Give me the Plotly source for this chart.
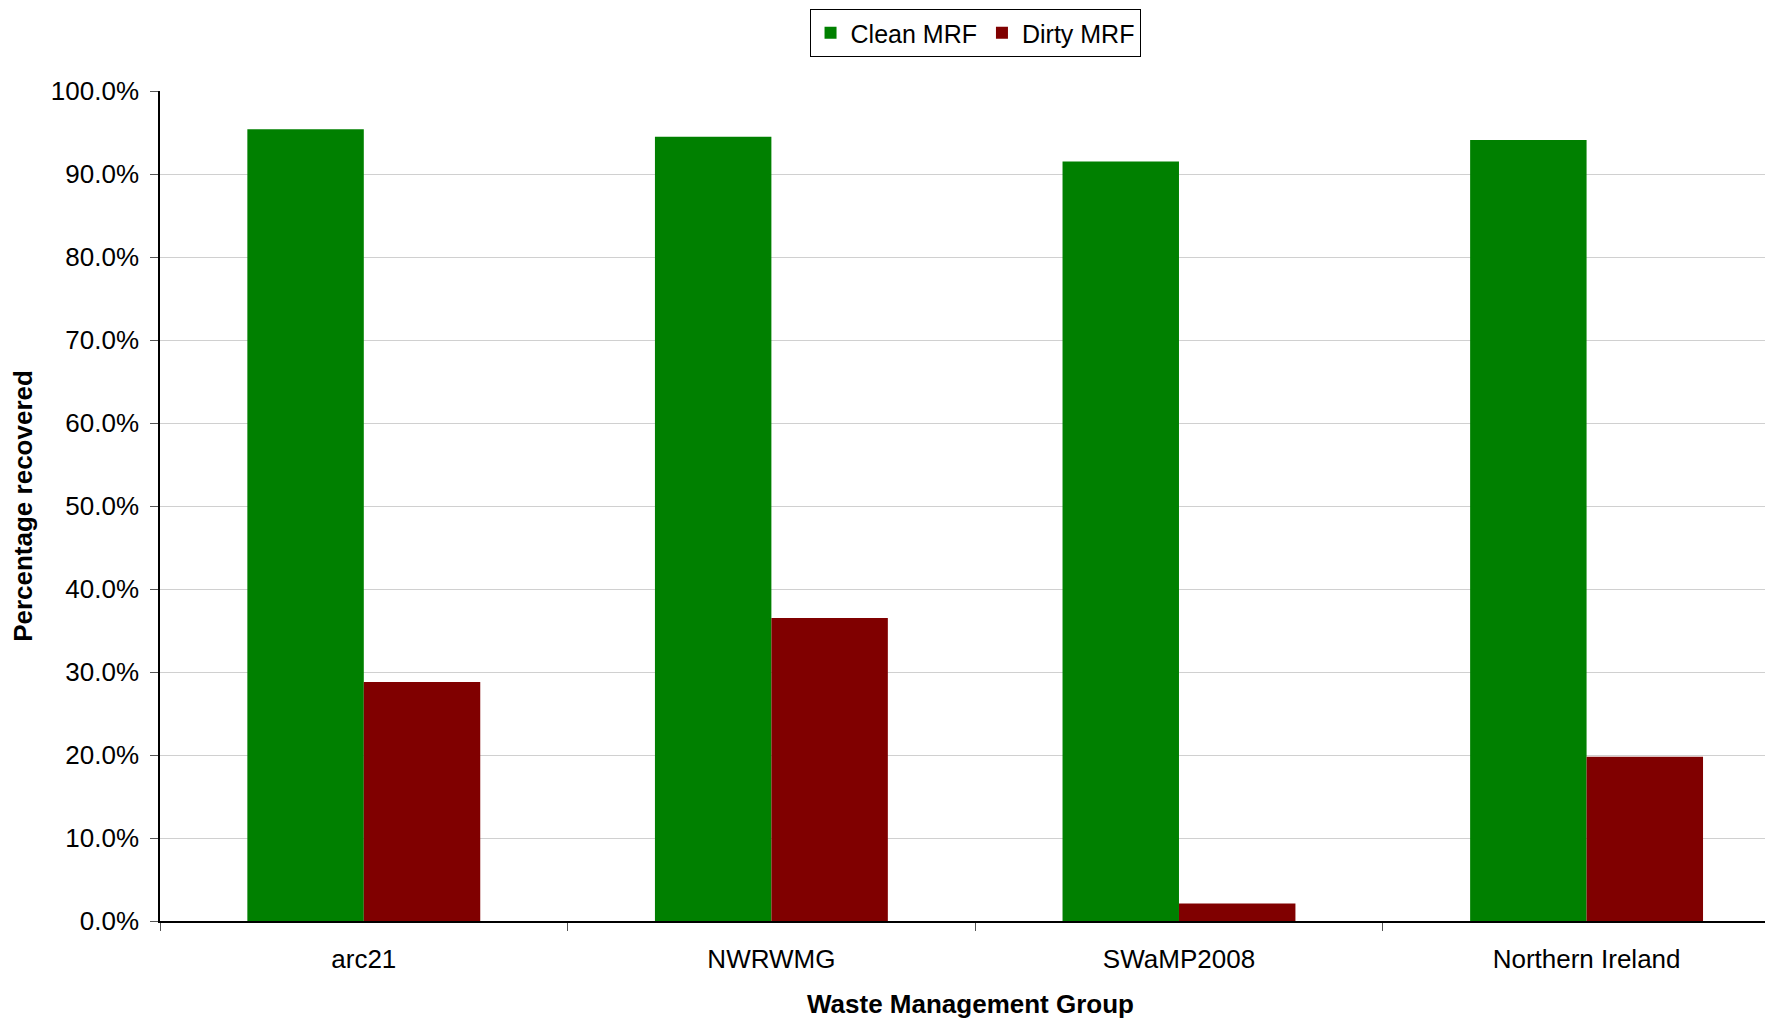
import plotly.graph_objects as go

categories = ["arc21", "NWRWMG", "SWaMP2008", "Northern Ireland"]
clean_mrf = [95.4, 94.5, 91.5, 94.1]
dirty_mrf = [28.8, 36.5, 2.1, 19.8]
y_ticks = [0, 10, 20, 30, 40, 50, 60, 70, 80, 90, 100]

FONT = "Liberation Sans, Arial, sans-serif"

fig = go.Figure()
fig.add_trace(go.Bar(name="Clean MRF", x=categories, y=clean_mrf,
                     marker=dict(color="#008000", line=dict(width=0))))
fig.add_trace(go.Bar(name="Dirty MRF", x=categories, y=dirty_mrf,
                     marker=dict(color="#800000", line=dict(width=0))))

fig.update_layout(
    width=1773, height=1019,
    barmode="group", bargap=0.4286, bargroupgap=0,
    plot_bgcolor="white", paper_bgcolor="white",
    font=dict(family=FONT, size=26, color="black"),
    margin=dict(l=152, r=0, t=83, b=106),
    legend=dict(orientation="h", x=0.5028, xanchor="center", y=0.999,
                yref="container", yanchor="top",
                bordercolor="black", borderwidth=1,
                font=dict(size=25), tracegroupgap=0),
    showlegend=True,
)

fig.update_xaxes(
    type="category", range=[-0.5, 3.477],
    showline=True, linecolor="black", linewidth=1.5,
    ticks="outside", tickson="boundaries", ticklen=8, tickcolor="#555555",
    showgrid=False,
    ticklabelstandoff=14,
    title=dict(text="<b>Waste Management Group</b>", font=dict(size=26), standoff=22),
    tickfont=dict(size=26),
)
fig.update_yaxes(
    range=[0, 100], tickvals=y_ticks,
    ticktext=[f"{v:.1f}%" for v in y_ticks],
    showline=True, linecolor="black", linewidth=1.5,
    ticks="outside", ticklen=8, tickcolor="#555555",
    showgrid=True, gridcolor="#d0d0d0", gridwidth=1,
    zeroline=False,
    ticklabelstandoff=6,
    title=dict(text="<b>Percentage recovered</b>", font=dict(size=26), standoff=14),
    tickfont=dict(size=26),
)

fig.write_html("out.html")
